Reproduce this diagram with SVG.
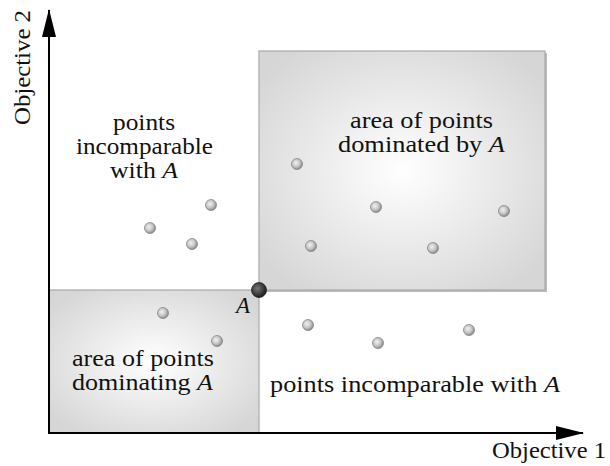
<svg xmlns="http://www.w3.org/2000/svg" width="610" height="466" viewBox="0 0 610 466">
<defs>
<radialGradient id="area" cx="0.5" cy="0.5" r="0.62">
<stop offset="0" stop-color="#ffffff"/>
<stop offset="1" stop-color="#d6d6d6"/>
</radialGradient>
<radialGradient id="ball" cx="0.4" cy="0.4" r="0.6">
<stop offset="0" stop-color="#f2f2f2"/>
<stop offset="0.6" stop-color="#c4c4c4"/>
<stop offset="1" stop-color="#8a8a8a"/>
</radialGradient>
<radialGradient id="ballA" cx="0.4" cy="0.4" r="0.6">
<stop offset="0" stop-color="#777"/>
<stop offset="1" stop-color="#1e1e1e"/>
</radialGradient>
<marker id="arr" viewBox="0 0 28 14" refX="27" refY="7" markerWidth="28" markerHeight="14" markerUnits="userSpaceOnUse" orient="auto">
<path d="M0,0 L28,7 L0,14 Z" fill="#000"/>
</marker>
</defs>
<style>
.it{font-style:italic}
.area{fill:url(#area);stroke:#a8a8a8;stroke-width:1.2}
.pt{fill:url(#ball);stroke:#888;stroke-width:0.8}
</style>
<rect width="610" height="466" fill="#fff"/>
<g font-family="Liberation Serif, DejaVu Serif, serif" font-size="23" fill="#111">
<g id="dominated">
<rect x="261" y="53" width="286" height="239" fill="#bbb"/>
<rect class="area" x="259" y="51" width="286" height="239"/>
<text x="350" y="128" textLength="143" lengthAdjust="spacingAndGlyphs">area of points</text>
<text x="338" y="152" textLength="167" lengthAdjust="spacingAndGlyphs">dominated by <tspan class="it">A</tspan></text>
</g>
<g id="dominating">
<rect class="area" x="49" y="290" width="210" height="143"/>
<text x="72" y="366" textLength="142" lengthAdjust="spacingAndGlyphs">area of points</text>
<text x="72" y="390" textLength="141" lengthAdjust="spacingAndGlyphs">dominating <tspan class="it">A</tspan></text>
</g>
<g id="incomparable-top">
<text x="113" y="130" textLength="62" lengthAdjust="spacingAndGlyphs">points</text>
<text x="76" y="154" textLength="137" lengthAdjust="spacingAndGlyphs">incomparable</text>
<text x="110" y="178" textLength="68" lengthAdjust="spacingAndGlyphs">with <tspan class="it">A</tspan></text>
</g>
<g id="incomparable-bottom">
<text x="270" y="392" textLength="290" lengthAdjust="spacingAndGlyphs">points incomparable with <tspan class="it">A</tspan></text>
</g>
<g id="connectors">
<line x1="49" y1="434" x2="49" y2="10" stroke="#000" stroke-width="2" marker-end="url(#arr)"/>
<line x1="48" y1="433" x2="583" y2="433" stroke="#000" stroke-width="2" marker-end="url(#arr)"/>
</g>
<g id="axis-labels">
<text x="492" y="458" textLength="114" lengthAdjust="spacingAndGlyphs">Objective 1</text>
<text transform="translate(30,125) rotate(-90)" x="0" y="0" textLength="115" lengthAdjust="spacingAndGlyphs">Objective 2</text>
</g>
<g id="points">
<circle class="pt" cx="297" cy="164" r="5.5"/>
<circle class="pt" cx="376" cy="207" r="5.5"/>
<circle class="pt" cx="504" cy="211" r="5.5"/>
<circle class="pt" cx="311" cy="246" r="5.5"/>
<circle class="pt" cx="433" cy="248" r="5.5"/>
<circle class="pt" cx="150" cy="228" r="5.5"/>
<circle class="pt" cx="211" cy="205" r="5.5"/>
<circle class="pt" cx="192" cy="244" r="5.5"/>
<circle class="pt" cx="163" cy="313" r="5.5"/>
<circle class="pt" cx="217" cy="341" r="5.5"/>
<circle class="pt" cx="308" cy="325" r="5.5"/>
<circle class="pt" cx="378" cy="343" r="5.5"/>
<circle class="pt" cx="469" cy="330" r="5.5"/>
</g>
<g id="pointA">
<circle cx="259" cy="290" r="7.5" fill="url(#ballA)" stroke="#222" stroke-width="0.8"/>
<text class="it" x="236" y="313">A</text>
</g>
</g>
</svg>
